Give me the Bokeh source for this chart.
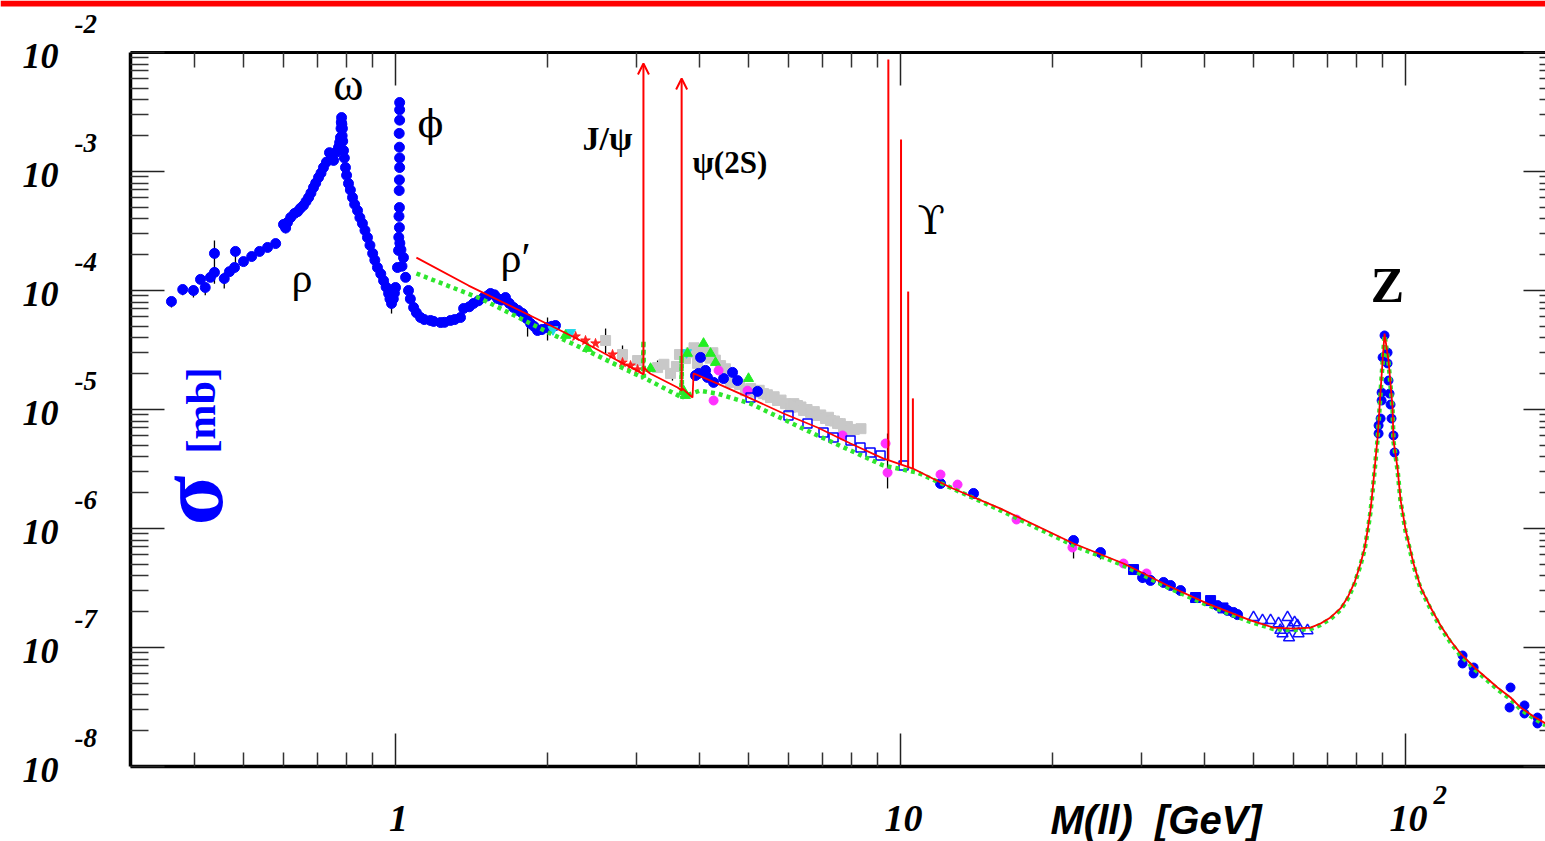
import math
from bokeh.plotting import figure
from bokeh.models import (Range1d, LogAxis, FixedTicker, ColumnDataSource, LabelSet,
                          Label, Arrow, OpenHead, BoxAnnotation)
from bokeh.embed import file_html
from bokeh.resources import INLINE

# ---------------- data (mass in GeV, sigma in mb) ----------------
low_mass_pts = [
    (0.360, 8.09e-5), (0.379, 1.02e-4), (0.398, 1.00e-4), (0.411, 1.24e-4), (0.420, 1.06e-4),
    (0.430, 1.29e-4), (0.438, 1.42e-4), (0.438, 2.05e-4), (0.458, 1.26e-4), (0.469, 1.44e-4),
    (0.480, 1.56e-4), (0.482, 2.13e-4), (0.500, 1.75e-4), (0.519, 1.93e-4), (0.538, 2.13e-4),
    (0.558, 2.30e-4), (0.579, 2.48e-4), (0.600, 3.59e-4), (0.606, 3.35e-4), (0.611, 3.73e-4),
    (0.620, 4.11e-4), (0.631, 4.44e-4), (0.640, 4.60e-4), (0.648, 4.90e-4), (0.657, 5.18e-4),
    (0.665, 5.60e-4), (0.673, 6.05e-4), (0.680, 6.60e-4), (0.688, 7.34e-4), (0.695, 8.00e-4),
    (0.704, 8.91e-4), (0.712, 9.70e-4), (0.720, 1.08e-3), (0.730, 1.20e-3), (0.740, 1.44e-3),
    (0.748, 1.35e-3), (0.754, 1.24e-3), (0.762, 1.45e-3), (0.771, 1.59e-3), (0.775, 1.75e-3),
    (0.778, 1.93e-3), (0.780, 2.30e-3), (0.781, 2.60e-3), (0.782, 2.84e-3), (0.783, 2.50e-3),
    (0.784, 2.00e-3), (0.785, 2.30e-3), (0.786, 1.80e-3), (0.789, 1.50e-3), (0.792, 1.30e-3),
    (0.796, 1.08e-3), (0.800, 9.30e-4), (0.807, 7.93e-4), (0.814, 7.00e-4), (0.822, 6.05e-4),
    (0.830, 5.30e-4), (0.841, 4.70e-4), (0.850, 4.10e-4), (0.860, 3.66e-4), (0.870, 3.20e-4),
    (0.880, 2.79e-4), (0.890, 2.40e-4), (0.901, 2.05e-4), (0.910, 1.80e-4), (0.921, 1.56e-4),
    (0.935, 1.38e-4), (0.947, 1.21e-4), (0.958, 1.07e-4), (0.969, 9.44e-5), (0.975, 8.50e-5),
    (0.982, 7.78e-5), (0.990, 8.50e-5), (0.995, 9.50e-5), (1.000, 1.06e-4), (1.009, 1.56e-4),
    (1.014, 2.17e-4), (1.015, 2.80e-4), (1.016, 4.20e-4), (1.017, 6.92e-4), (1.018, 3.38e-4),
    (1.018, 4.98e-4), (1.018, 8.50e-4), (1.019, 1.08e-3), (1.018, 1.60e-3), (1.019, 1.30e-3),
    (1.019, 2.70e-3), (1.017, 2.09e-3), (1.019, 3.30e-3), (1.019, 3.80e-3), (1.020, 2.50e-4),
    (1.025, 2.20e-4), (1.030, 1.60e-4), (1.037, 1.89e-4), (1.047, 1.29e-4), (1.061, 1.00e-4),
    (1.070, 8.50e-5), (1.086, 7.20e-5), (1.100, 6.50e-5), (1.121, 5.93e-5), (1.140, 5.70e-5),
    (1.173, 5.60e-5), (1.190, 5.50e-5), (1.228, 5.38e-5), (1.250, 5.40e-5), (1.285, 5.60e-5),
    (1.310, 5.70e-5), (1.345, 5.93e-5), (1.364, 7.06e-5), (1.400, 7.30e-5), (1.427, 7.78e-5),
    (1.460, 8.20e-5), (1.494, 8.73e-5), (1.520, 9.00e-5), (1.542, 9.44e-5), (1.570, 9.20e-5),
    (1.592, 8.57e-5), (1.620, 8.30e-5), (1.651, 8.73e-5), (1.680, 7.80e-5), (1.713, 7.20e-5),
    (1.750, 6.80e-5), (1.785, 6.41e-5), (1.820, 5.80e-5), (1.851, 5.28e-5), (1.880, 5.00e-5),
    (1.911, 4.61e-5), (1.950, 4.70e-5), (2.000, 4.89e-5), (2.040, 5.00e-5), (2.074, 5.08e-5),
]
gray_squares = [
    (2.606, 3.80e-5), (2.815, 2.90e-5), (3.015, 2.58e-5), (3.303, 2.25e-5), (3.400, 2.40e-5),
    (3.504, 2.01e-5), (3.600, 2.30e-5), (3.650, 2.90e-5), (3.752, 2.68e-5), (3.850, 3.00e-5),
    (3.900, 3.30e-5), (3.963, 2.44e-5), (4.000, 2.80e-5), (4.055, 3.19e-5), (4.100, 3.00e-5),
    (4.200, 2.70e-5), (4.250, 3.00e-5), (4.300, 2.60e-5), (4.402, 2.34e-5), (4.500, 2.20e-5),
    (4.607, 1.69e-5), (4.800, 1.62e-5), (4.933, 1.44e-5), (5.050, 1.50e-5), (5.163, 1.40e-5),
    (5.250, 1.45e-5), (5.355, 1.36e-5), (5.450, 1.33e-5), (5.528, 1.26e-5), (5.620, 1.28e-5),
    (5.707, 1.19e-5), (5.800, 1.20e-5), (5.920, 1.12e-5), (6.056, 1.04e-5), (6.150, 1.12e-5),
    (6.252, 1.08e-5), (6.350, 1.05e-5), (6.427, 9.81e-6), (6.530, 1.00e-5), (6.634, 9.44e-6),
    (6.750, 9.60e-6), (6.848, 8.90e-6), (6.950, 9.00e-6), (7.104, 8.40e-6), (7.200, 8.60e-6),
    (7.266, 8.08e-6), (7.400, 8.00e-6), (7.503, 7.63e-6), (7.600, 7.60e-6), (7.711, 7.06e-6),
    (7.850, 7.20e-6), (7.962, 6.66e-6), (8.100, 6.80e-6), (8.350, 6.90e-6),
]
green_triangles = [
    (2.171, 4.19e-5), (2.400, 3.26e-5), (3.199, 2.21e-5), (3.718, 1.44e-5), (3.752, 1.31e-5),
    (3.786, 2.96e-5), (4.073, 3.59e-5), (4.205, 2.96e-5), (4.302, 2.48e-5), (5.000, 1.82e-5),
]
cyan_triangles = [(2.050, 4.70e-5), (2.221, 4.44e-5), (3.769, 3.01e-5)]
red_stars = [
    (2.273, 4.11e-5), (2.378, 3.80e-5), (2.489, 3.59e-5), (2.690, 2.90e-5), (2.815, 2.48e-5),
    (2.920, 2.34e-5), (3.015, 2.17e-5),
]
blue_mid = [
    (3.927, 1.93e-5), (3.981, 2.01e-5), (4.018, 2.74e-5), (4.111, 2.13e-5), (4.147, 1.86e-5),
    (4.264, 1.69e-5), (4.463, 1.82e-5), (4.649, 2.05e-5), (4.756, 1.75e-5), (5.210, 1.42e-5),
    (12.00, 2.39e-6), (13.95, 1.97e-6),
]
magenta_circles = [
    (4.264, 1.19e-5), (4.362, 2.13e-5), (4.977, 1.44e-5), (7.676, 6.05e-6), (9.340, 5.18e-6),
    (9.426, 2.95e-6), (12.00, 2.84e-6), (12.97, 2.34e-6), (16.97, 1.19e-6), (21.90, 6.92e-7),
    (27.64, 5.08e-7), (30.70, 4.19e-7),
]
blue_open_squares = [
    (5.047, 1.26e-5), (6.000, 8.90e-6), (6.543, 7.63e-6), (7.039, 6.41e-6), (7.368, 5.82e-6),
    (7.962, 5.49e-6), (8.332, 4.79e-6), (8.722, 4.35e-6), (9.129, 4.11e-6), (10.14, 3.38e-6),
]
blue_high = [
    (22.01, 7.93e-7), (24.89, 6.28e-7), (30.15, 3.87e-7), (31.26, 3.66e-7), (33.18, 3.52e-7),
    (34.25, 3.32e-7), (35.85, 3.01e-7), (42.44, 2.25e-7), (44.42, 2.05e-7), (45.65, 1.97e-7),
    (46.49, 1.89e-7),
]
blue_high_squares = [(28.93, 4.52e-7), (38.39, 2.63e-7), (41.11, 2.48e-7), (43.50, 2.15e-7)]
open_triangles = [
    (50.00, 1.79e-7), (52.10, 1.69e-7), (54.05, 1.69e-7), (56.05, 1.59e-7), (57.07, 1.31e-7),
    (58.39, 1.79e-7), (59.20, 1.47e-7), (58.79, 1.21e-7), (61.10, 1.53e-7), (61.40, 1.31e-7),
    (63.96, 1.39e-7), (56.50, 1.40e-7), (60.30, 1.62e-7),
]
z_peak_pts = [
    (90.87, 4.19e-5), (92.13, 3.01e-5), (90.08, 2.74e-5), (92.13, 2.44e-5), (92.53, 1.75e-5),
    (89.67, 1.39e-5), (92.96, 1.36e-5), (89.67, 1.19e-5), (93.39, 1.10e-5), (89.26, 8.40e-6),
    (93.82, 8.40e-6), (88.44, 7.34e-6), (88.44, 6.28e-6), (94.66, 6.05e-6), (95.10, 4.35e-6),
]
tail_pts = [
    (129.7, 8.57e-8), (129.7, 7.34e-8), (136.4, 6.79e-8), (136.4, 6.05e-8), (161.4, 4.61e-8),
    (160.7, 3.13e-8), (172.0, 3.26e-8), (172.0, 2.79e-8), (182.5, 2.58e-8), (182.5, 2.30e-8),
]
error_bars = [  # (mass, low, high)
    (0.360, 7.2e-5, 8.73e-5), (0.379, 9.1e-5, 1.10e-4), (0.398, 8.73e-5, 1.10e-4),
    (0.420, 9.1e-5, 1.16e-4), (0.438, 1.14e-4, 2.63e-4), (0.458, 1.04e-4, 1.42e-4),
    (0.482, 1.69e-4, 2.30e-4), (0.606, 3.03e-4, 3.66e-4), (0.660, 4.98e-4, 6.28e-4),
    (0.982, 6.4e-5, 8.2e-5), (1.826, 4.1e-5, 5.3e-5), (2.000, 3.80e-5, 5.93e-5),
    (2.606, 2.96e-5, 4.79e-5), (2.815, 2.68e-5, 3.45e-5), (3.303, 2.13e-5, 2.58e-5),
    (3.535, 1.75e-5, 2.21e-5), (4.111, 2.96e-5, 3.59e-5), (9.426, 2.17e-6, 6.28e-6),
    (22.01, 5.6e-7, 7.7e-7), (24.89, 5.5e-7, 6.6e-7), (30.15, 3.5e-7, 4.0e-7),
]
red_curve = [
    (1.100, 1.89e-4), (1.395, 1.10e-4), (2.027, 5.08e-5), (2.325, 3.80e-5), (2.752, 2.58e-5),
    (3.056, 2.05e-5), (3.090, 1.98e-5), (3.097, 1.98e-5), (3.110, 2.25e-5), (3.150, 2.10e-5),
    (3.199, 2.00e-5), (3.618, 1.53e-5), (3.680, 1.45e-5), (3.686, 1.45e-5), (3.700, 1.50e-5),
    (3.874, 1.26e-5), (3.892, 2.01e-5), (4.342, 1.65e-5), (5.047, 1.24e-5), (5.866, 9.26e-6),
    (6.848, 7.06e-6), (7.962, 5.18e-6), (9.255, 3.87e-6), (9.460, 3.75e-6), (10.58, 3.19e-6),
    (12.56, 2.21e-6), (15.78, 1.47e-6), (22.01, 7.48e-7), (27.64, 5.08e-7), (33.79, 3.32e-7),
    (40.54, 2.34e-7), (49.32, 1.69e-7), (54.78, 1.47e-7), (60.00, 1.44e-7), (64.86, 1.47e-7),
    (67.88, 1.59e-7), (71.04, 1.79e-7), (74.33, 2.13e-7), (76.77, 2.63e-7), (79.25, 3.52e-7),
    (81.46, 5.08e-7), (82.95, 6.79e-7), (84.11, 9.62e-7), (85.24, 1.42e-6), (86.05, 2.09e-6),
    (88.04, 5.82e-6), (89.26, 1.44e-5), (90.08, 2.58e-5), (90.87, 4.35e-5), (92.53, 2.58e-5),
    (94.25, 1.04e-5), (94.66, 5.50e-6), (96.42, 3.20e-6), (97.75, 1.75e-6), (100.0, 9.80e-7),
    (103.7, 5.08e-7), (107.1, 3.22e-7), (112.1, 2.17e-7), (117.3, 1.53e-7), (122.8, 1.14e-7),
    (128.5, 8.90e-8), (137.6, 6.66e-8), (152.1, 4.61e-8), (161.4, 3.80e-8), (169.0, 3.13e-8),
    (179.3, 2.63e-8), (189.3, 2.30e-8),
]
green_curve = [
    (1.100, 1.39e-4), (1.473, 8.57e-5), (2.027, 4.35e-5), (2.325, 3.32e-5), (3.056, 1.89e-5),
    (3.090, 1.85e-5), (3.097, 3.80e-5), (3.104, 1.85e-5), (3.680, 1.27e-5), (3.686, 2.84e-5),
    (3.692, 1.26e-5), (3.750, 1.30e-5), (4.000, 1.44e-5), (4.340, 1.36e-5), (5.047, 1.12e-5),
    (6.848, 6.05e-6), (9.255, 3.38e-6), (10.81, 2.95e-6), (15.78, 1.42e-6), (22.01, 7.20e-7),
    (27.64, 4.90e-7), (33.79, 3.20e-7), (40.54, 2.27e-7), (49.32, 1.64e-7), (54.78, 1.43e-7),
    (60.00, 1.40e-7), (64.86, 1.43e-7), (67.88, 1.55e-7), (71.04, 1.74e-7), (74.33, 2.07e-7),
    (76.77, 2.55e-7), (79.25, 3.42e-7), (81.46, 4.95e-7), (82.95, 6.60e-7), (84.11, 9.40e-7),
    (85.24, 1.38e-6), (86.05, 2.03e-6), (88.04, 5.65e-6), (89.26, 1.40e-5), (90.08, 2.50e-5),
    (90.87, 4.20e-5), (92.53, 2.50e-5), (94.25, 1.00e-5), (94.66, 5.40e-6), (96.42, 3.10e-6),
    (97.75, 1.70e-6), (100.0, 9.50e-7), (103.7, 4.90e-7), (107.1, 3.12e-7), (112.1, 2.10e-7),
    (117.3, 1.48e-7), (122.8, 1.10e-7), (128.5, 8.60e-8), (137.6, 6.45e-8), (152.1, 4.45e-8),
    (161.4, 3.68e-8), (169.0, 3.02e-8), (179.3, 2.55e-8), (189.3, 2.22e-8),
]
upsilon_mass = [9.460, 10.023, 10.355, 10.580]
upsilon_peak = [8.73e-3, 1.86e-3, 9.80e-5, 1.24e-5]
upsilon_base = [3.75e-6, 3.45e-6, 3.30e-6, 3.19e-6]
charmonium_mass = [3.097, 3.686]
charmonium_top = [8.08e-3, 6.05e-3]
charmonium_base = [1.98e-5, 1.45e-5]

y_major = [1e-8, 1e-7, 1e-6, 1e-5, 1e-4, 1e-3, 1e-2]
y_exponents = ["-8", "-7", "-6", "-5", "-4", "-3", "-2"]
x_major = [1.0, 10.0, 100.0]
x_labels = ["1", "10", "10"]
x_exponent_tick = [100.0]
x_exponents = ["2"]

# plot region (data) and page geometry
x_start, x_end = 0.2987, 189.3
y_start, y_end = 1e-8, 1e-2
PX_DEC_X, PX_DEC_Y = 505.0, 119.0          # pixels per decade
MARGIN_L, MARGIN_T, MARGIN_B = 130, 52, 75  # pixels around the plot region
W, H = 1545, 841


def xs(pts):
    return [p[0] for p in pts]


def ys(pts):
    return [p[1] for p in pts]


def xshift(x, dpx):      # move right by dpx pixels
    return x * 10 ** (dpx / PX_DEC_X)


def yshift(y, dpx):      # move up by dpx pixels
    return y * 10 ** (dpx / PX_DEC_Y)


# ---------------- figure (frame covers the whole page) ----------------
p = figure(width=W, height=H, x_axis_type="log", y_axis_type="log",
           x_range=Range1d(xshift(x_start, -MARGIN_L), x_end),
           y_range=Range1d(yshift(y_start, -MARGIN_B), yshift(y_end, MARGIN_T)),
           x_axis_location=None, y_axis_location=None,
           toolbar_location=None, output_backend="svg",
           min_border=0, min_border_left=0, min_border_right=0,
           min_border_top=0, min_border_bottom=0,
           background_fill_color="white", border_fill_color="white",
           outline_line_color=None)
p.grid.visible = False

# top red bar
p.add_layout(BoxAnnotation(bottom=yshift(y_end, MARGIN_T - 6), fill_color="#ff0000",
                           fill_alpha=1.0, line_color=None))

y_minor = [m * 10.0 ** e for e in range(-8, -2) for m in range(2, 10)]
x_minor = [m * 10.0 ** e for e in range(-1, 3) for m in range(2, 10)
           if x_start * 1.01 < m * 10.0 ** e < x_end]


def add_axis(loc, fixed, bounds, maj_in, min_in, line_color="black", lw=3.5):
    if loc in ("left", "right"):
        ticker = FixedTicker(ticks=y_major, minor_ticks=y_minor)
    else:
        ticker = FixedTicker(ticks=x_major, minor_ticks=x_minor)
    ax = LogAxis(ticker=ticker, fixed_location=fixed, bounds=bounds,
                 major_tick_in=maj_in, major_tick_out=0,
                 minor_tick_in=min_in, minor_tick_out=0,
                 axis_line_width=lw, axis_line_color=line_color,
                 major_tick_line_color="#222222", minor_tick_line_color="#333333",
                 major_tick_line_width=1.5, minor_tick_line_width=1.5,
                 major_label_text_color=None)
    p.add_layout(ax, loc)


add_axis("left", x_start, (y_start, y_end), 34, 18)
add_axis("right", x_end, (y_start, y_end), 22, 6, line_color=None)
add_axis("below", y_start, (x_start, x_end), 33, 14)
add_axis("above", y_end, (x_start, x_end), 33, 15, lw=3)

# error bars
p.segment(x0=[e[0] for e in error_bars], y0=[e[1] for e in error_bars],
          x1=[e[0] for e in error_bars], y1=[e[2] for e in error_bars],
          line_color="black", line_width=1.3)

# markers
p.scatter(xs(gray_squares), ys(gray_squares), marker="square", size=10,
          fill_color="#c8c8c8", line_color="#c8c8c8")
p.scatter(xs(low_mass_pts), ys(low_mass_pts), marker="circle", size=10,
          fill_color="#0000ff", line_color="#0000ff")
p.scatter(xs(red_stars), ys(red_stars), marker="star", size=10,
          fill_color="#ff2020", line_color="#ff2020")
p.scatter(xs(cyan_triangles), ys(cyan_triangles), marker="inverted_triangle", size=10,
          fill_color="#20d8e8", line_color="#20d8e8")
p.scatter(xs(blue_mid), ys(blue_mid), marker="circle", size=10,
          fill_color="#0000ff", line_color="#0000ff")
p.scatter(xs(green_triangles), ys(green_triangles), marker="triangle", size=10,
          fill_color="#22ee22", line_color="#22ee22")
p.scatter(xs(magenta_circles), ys(magenta_circles), marker="circle", size=9,
          fill_color="#ff30ff", line_color="#ff30ff")
p.scatter(xs(blue_open_squares), ys(blue_open_squares), marker="square", size=9,
          fill_color=None, line_color="#0000ff", line_width=1.5)
p.scatter(xs(blue_high), ys(blue_high), marker="circle", size=10,
          fill_color="#0000ff", line_color="#0000ff")
p.scatter(xs(blue_high_squares), ys(blue_high_squares), marker="square", size=10,
          fill_color="#0000ff", line_color="#0000ff")
p.scatter(xs(open_triangles), ys(open_triangles), marker="triangle", size=11,
          fill_color=None, line_color="#1010ff", line_width=1.5)
p.scatter(xs(z_peak_pts), ys(z_peak_pts), marker="circle", size=9,
          fill_color="#0000ff", line_color="#0000ff")
p.scatter(xs(tail_pts), ys(tail_pts), marker="circle", size=9,
          fill_color="#0000ff", line_color="#0000ff")

# theory curves
p.line(xs(green_curve), ys(green_curve), line_color="#2ee62e", line_width=4.5, line_dash="4 4")
p.line(xs(red_curve), ys(red_curve), line_color="#ff0000", line_width=1.8)

# Upsilon spikes
p.segment(x0=upsilon_mass, y0=upsilon_base, x1=upsilon_mass, y1=upsilon_peak,
          line_color="#ff0000", line_width=2)

# J/psi and psi(2S) arrows
csrc = ColumnDataSource(dict(m=charmonium_mass, top=charmonium_top, base=charmonium_base))
p.add_layout(Arrow(x_start="m", y_start="base", x_end="m", y_end="top", source=csrc,
                   line_color="#ff0000", line_width=2,
                   end=OpenHead(size=11, line_color="#ff0000", line_width=2)))

# ---------------- tick labels ----------------
TF = "Liberation Sans"
ysrc = ColumnDataSource(dict(
    x10=[xshift(x_start, -72)] * len(y_major), y10=[yshift(v, -3) for v in y_major],
    xe=[xshift(x_start, -56)] * len(y_major), ye=[yshift(v, 29) for v in y_major],
    t=["10"] * len(y_major), e=y_exponents))
p.add_layout(LabelSet(x="x10", y="y10", text="t", source=ysrc,
                      text_align="right", text_baseline="middle", text_font=TF,
                      text_font_style="bold italic", text_font_size="36px", text_color="black"))
p.add_layout(LabelSet(x="xe", y="ye", text="e", source=ysrc,
                      text_align="left", text_baseline="middle", text_font=TF,
                      text_font_style="bold italic", text_font_size="27px", text_color="black"))
xsrc = ColumnDataSource(dict(x=[xshift(v, 3) for v in x_major],
                             y=[yshift(y_start, -52)] * len(x_major), t=x_labels))
p.add_layout(LabelSet(x="x", y="y", text="t", source=xsrc,
                      text_align="center", text_baseline="middle", text_font=TF,
                      text_font_style="bold italic", text_font_size="38px", text_color="black"))
xesrc = ColumnDataSource(dict(x=[xshift(v, 28) for v in x_exponent_tick],
                              y=[yshift(y_start, -28)] * len(x_exponent_tick), t=x_exponents))
p.add_layout(LabelSet(x="x", y="y", text="t", source=xesrc,
                      text_align="left", text_baseline="middle", text_font=TF,
                      text_font_style="bold italic", text_font_size="27px", text_color="black"))
p.add_layout(Label(x=xshift(x_major[1], 150), y=yshift(y_start, -53),
                   text="M(ll)\u00a0 [GeV]",
                   text_align="left", text_baseline="middle", text_font=TF,
                   text_font_style="bold italic", text_font_size="40px", text_color="black"))

# y title (rotated, blue)
p.add_layout(Label(x=xshift(x_start, 60), y=1.06e-6, text="σ", angle=math.pi / 2,
                   text_align="left", text_baseline="middle", text_font="Liberation Serif",
                   text_font_style="bold", text_font_size="92px", text_color="#0000ff"))
p.add_layout(Label(x=xshift(x_start, 70), y=4.27e-6, text="[mb]", angle=math.pi / 2,
                   text_align="left", text_baseline="middle", text_font="Liberation Serif",
                   text_font_style="bold", text_font_size="42px", text_color="#0000ff"))

# resonance names: (text, x, baseline y, align, style, font size px, font)
SF = "Liberation Serif"
ann = [
    ("ω", 0.807, 3.95e-3, "center", "normal", 46, SF),
    ("ϕ", 1.105, 1.93e-3, "left", "normal", 38, "DejaVu Serif"),
    ("ρ", 0.622, 9.62e-5, "left", "normal", 42, SF),
    ("ρ′", 1.614, 1.42e-4, "left", "normal", 42, SF),
    ("J/ψ", 2.346, 1.50e-3, "left", "bold", 34, SF),
    ("ψ(2S)", 3.874, 9.62e-4, "left", "bold", 31, SF),
    ("ϒ", 10.81, 3.01e-4, "left", "normal", 40, "DejaVu Serif"),
    ("Z", 92.1, 7.93e-5, "center", "bold", 50, SF),
]
for t, x, yb, al, st, sz, fnt in ann:
    p.add_layout(Label(x=x, y=yshift(yb, 0.35 * sz), text=t, text_align=al,
                       text_baseline="middle", text_font=fnt, text_font_style=st,
                       text_font_size=f"{sz}px", text_color="black"))

open("out.html", "w").write(file_html(p, INLINE))
